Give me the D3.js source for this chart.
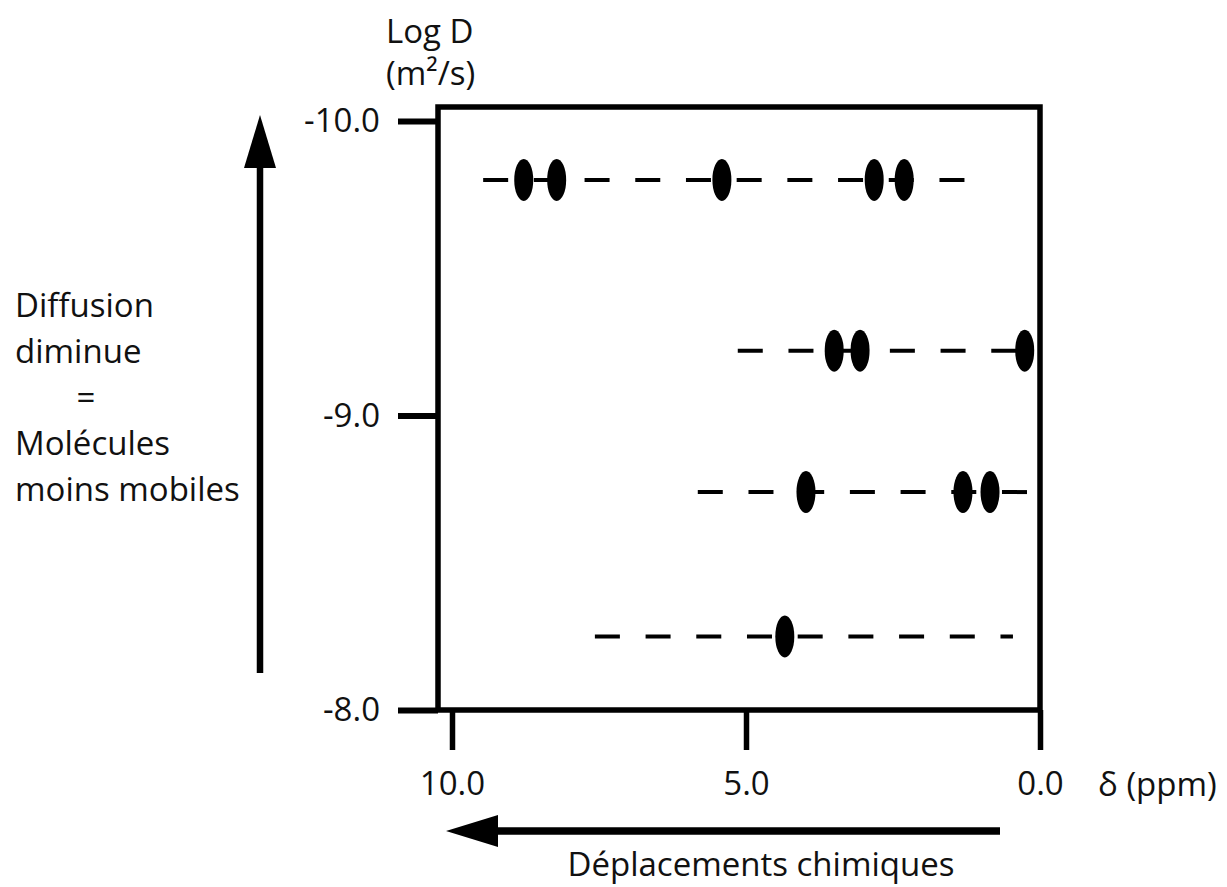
<!DOCTYPE html>
<html>
<head>
<meta charset="utf-8">
<script src="https://cdn.jsdelivr.net/npm/d3@7"></script>
<style>
  body { margin: 0; background: #fff; }
  svg text { font-family: "Open Sans", sans-serif; font-size: 33px; fill: #111; }
</style>
</head>
<body>
<div id="chart"></div>
<script>
// chemical shift ticks (ppm) and log D ticks
var ppmTicks = [10.0, 5.0, 0.0];
var logDTicks = [-10.0, -9.0, -8.0];

// one dashed row per diffusion coefficient
var rowLogD = [-9.80, -9.22, -8.74, -8.25];
var rowFrom = [9.47, 5.14, 5.82, 7.57];
var rowTo = [1.22, 0.26, 0.19, 0.46];
var rowPeaks = [
  [8.78, 8.22, 5.41, 2.82, 2.31],
  [3.50, 3.06, 0.26],
  [3.98, 1.31, 0.85],
  [4.34]
];

var width = 1227, height = 887;

var svg = d3.select("#chart").append("svg")
    .attr("width", width)
    .attr("height", height);

var x = d3.scaleLinear().domain([10, 0]).range([452, 1040]);
var y = d3.scaleLinear().domain([-10, -8]).range([121, 710]);

// frame, slightly wider than the tick range
var frameLeft = x(10) - 14, frameTop = y(-10) - 14;
svg.append("rect")
    .attr("x", frameLeft)
    .attr("y", frameTop)
    .attr("width", x(0) - frameLeft)
    .attr("height", y(-8) - frameTop)
    .attr("fill", "none")
    .attr("stroke", "#000")
    .attr("stroke-width", 5.5);

// axes
var yAxis = svg.append("g")
    .attr("transform", "translate(" + frameLeft + ",0)")
    .call(d3.axisLeft(y)
        .tickValues(logDTicks)
        .tickSize(40)
        .tickPadding(18)
        .tickFormat(function(d) { return d.toFixed(1); }));
yAxis.select(".domain").remove();
yAxis.selectAll("line").attr("stroke", "#000").attr("stroke-width", 6);

var xAxis = svg.append("g")
    .attr("transform", "translate(0," + y(-8) + ")")
    .call(d3.axisBottom(x)
        .tickValues(ppmTicks)
        .tickSize(40)
        .tickPadding(22)
        .tickFormat(function(d) { return d.toFixed(1); }));
xAxis.select(".domain").remove();
xAxis.selectAll("line").attr("stroke", "#000").attr("stroke-width", 5.5);

// rows
var rows = rowLogD.map(function(d, i) {
    return {logD: d, from: rowFrom[i], to: rowTo[i], peaks: rowPeaks[i]};
});

svg.selectAll(".row")
    .data(rows)
  .enter().append("line")
    .attr("class", "row")
    .attr("x1", function(d) { return x(d.from); })
    .attr("x2", function(d) { return x(d.to); })
    .attr("y1", function(d) { return y(d.logD); })
    .attr("y2", function(d) { return y(d.logD); })
    .attr("stroke", "#000")
    .attr("stroke-width", 4)
    .attr("stroke-dasharray", "25 25.7");

var peaks = [];
rows.forEach(function(r) {
    r.peaks.forEach(function(p) { peaks.push({ppm: p, logD: r.logD}); });
});

svg.selectAll(".peak")
    .data(peaks)
  .enter().append("ellipse")
    .attr("class", "peak")
    .attr("cx", function(d) { return x(d.ppm); })
    .attr("cy", function(d) { return y(d.logD); })
    .attr("rx", 9.5)
    .attr("ry", 21)
    .attr("fill", "#000");

// arrows
svg.append("line")
    .attr("x1", 260).attr("x2", 260)
    .attr("y1", 673).attr("y2", 160)
    .attr("stroke", "#000").attr("stroke-width", 6.5);
svg.append("path")
    .attr("d", "M260,115L276,168L244,168Z")
    .attr("fill", "#000");

svg.append("line")
    .attr("x1", 1000).attr("x2", 494)
    .attr("y1", 831).attr("y2", 831)
    .attr("stroke", "#000").attr("stroke-width", 7.5);
svg.append("path")
    .attr("d", "M446,831L498,815L498,847Z")
    .attr("fill", "#000");

// labels
svg.append("text").attr("x", 386).attr("y", 43).text("Log D");
svg.append("text").attr("x", 386).attr("y", 85).text("(m²/s)");
svg.append("text").attr("x", 1098).attr("y", 796).text("δ (ppm)");
svg.append("text").attr("x", 761).attr("y", 876)
    .attr("text-anchor", "middle").text("Déplacements chimiques");

var sideLines = ["Diffusion", "diminue", "=", "Molécules", "moins mobiles"];
svg.selectAll(".side")
    .data(sideLines)
  .enter().append("text")
    .attr("class", "side")
    .attr("x", function(d) { return d === "=" ? 86 : 15; })
    .attr("text-anchor", function(d) { return d === "=" ? "middle" : "start"; })
    .attr("y", function(d, i) { return 317 + i * 46; })
    .text(function(d) { return d; });
</script>
</body>
</html>
